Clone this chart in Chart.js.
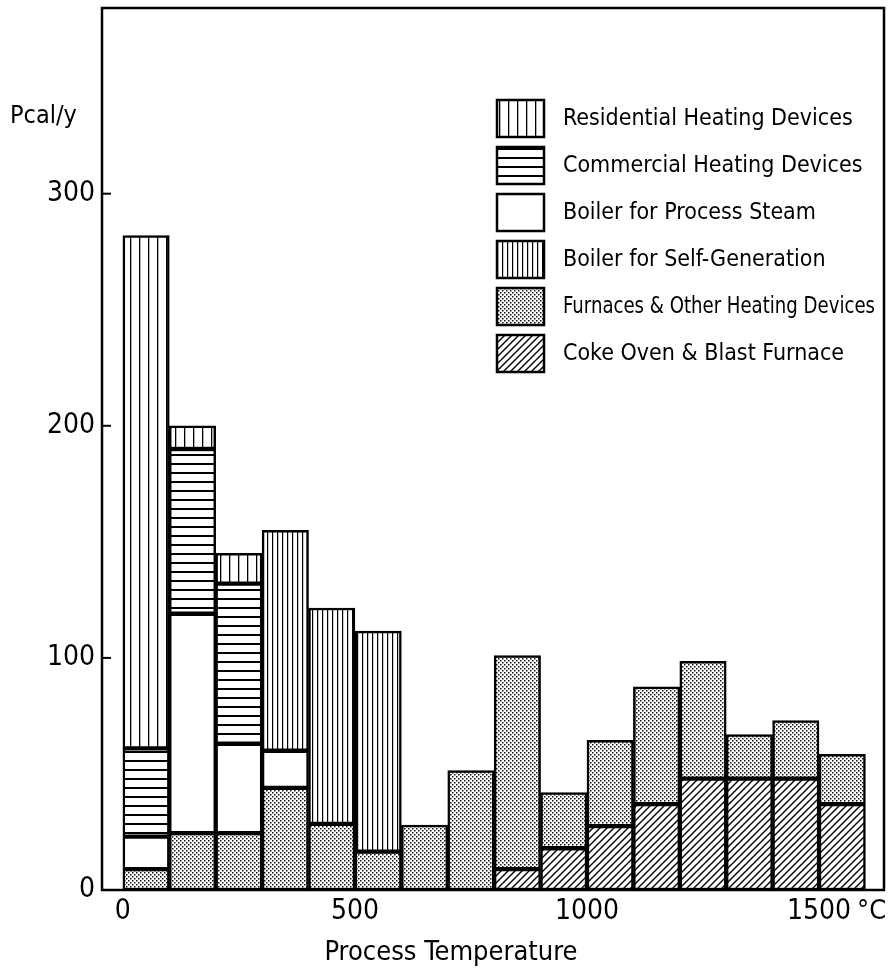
<!DOCTYPE html>
<html>
<head>
<meta charset="utf-8">
<title>Process heat demand by temperature</title>
<script src="https://cdn.jsdelivr.net/npm/chart.js@4.4.1/dist/chart.umd.min.js"></script>
<style>
  html, body { margin: 0; padding: 0; background: #fff; }
  canvas { display: block; }
</style>
</head>
<body>
<canvas id="heatChart" width="890" height="976"></canvas>
<script>
// lower edge of each 100 °C bin
const binStarts = [0, 100, 200, 300, 400, 500, 600, 700, 800, 900, 1000, 1100, 1200, 1300, 1400, 1500];
const binWidth = 100;

// Pcal/y per bin, bottom of the stack first
const cokeOven       = [0, 0, 0, 0, 0, 0, 0, 0, 9, 18, 27.5, 37, 48, 48, 48, 37];
const furnaces       = [9, 24.5, 24.5, 44, 28.5, 16.5, 28, 51.5, 92, 24, 37, 50.5, 50.5, 19, 25, 21.5];
const processSteam   = [14, 94.5, 38.5, 16, 0, 0, 0, 0, 0, 0, 0, 0, 0, 0, 0, 0];
const selfGeneration = [0, 0, 0, 95, 93, 95, 0, 0, 0, 0, 0, 0, 0, 0, 0, 0];
const commercial     = [38, 71, 69, 0, 0, 0, 0, 0, 0, 0, 0, 0, 0, 0, 0, 0];
const residential    = [221, 10, 13, 0, 0, 0, 0, 0, 0, 0, 0, 0, 0, 0, 0, 0];

const xTickValues = [0, 500, 1000, 1500];
const yTickValues = [0, 100, 200, 300];

// order of the entries in the key
const keyOrder = [
  'Residential Heating Devices',
  'Commercial Heating Devices',
  'Boiler for Process Steam',
  'Boiler for Self-Generation',
  'Furnaces & Other Heating Devices',
  'Coke Oven & Blast Furnace'
];

const FONT = '"Liberation Sans Narrow", "DejaVu Sans Condensed", "Liberation Sans", sans-serif';

const canvas = document.getElementById('heatChart');
const ctx = canvas.getContext('2d');

// small tiles used as hatch fills
function tile(w, h, draw) {
  const c = document.createElement('canvas');
  c.width = w;
  c.height = h;
  const g = c.getContext('2d');
  g.fillStyle = '#fff';
  g.fillRect(0, 0, w, h);
  g.fillStyle = '#000';
  g.strokeStyle = '#000';
  draw(g, w, h);
  return ctx.createPattern(c, 'repeat');
}

const fills = {
  vertWide: tile(9, 4, g => g.fillRect(4, 0, 1.3, 4)),
  vertDense: tile(5, 4, g => g.fillRect(2, 0, 1.2, 4)),
  horiz: tile(4, 9, g => g.fillRect(0, 4, 4, 2)),
  plain: '#fff',
  dots: tile(4, 4, g => {
    g.fillStyle = '#111';
    g.fillRect(0, 0, 1.5, 1.5);
    g.fillRect(2, 2, 1.5, 1.5);
  }),
  diag: tile(7, 7, g => {
    g.lineWidth = 1.4;
    g.beginPath();
    g.moveTo(-1, 8); g.lineTo(8, -1);
    g.moveTo(-1, 1); g.lineTo(1, -1);
    g.moveTo(6, 8); g.lineTo(8, 6);
    g.stroke();
  })
};

const series = [
  { label: 'Coke Oven & Blast Furnace', values: cokeOven, fill: fills.diag },
  { label: 'Furnaces & Other Heating Devices', values: furnaces, fill: fills.dots },
  { label: 'Boiler for Process Steam', values: processSteam, fill: fills.plain },
  { label: 'Boiler for Self-Generation', values: selfGeneration, fill: fills.vertDense },
  { label: 'Commercial Heating Devices', values: commercial, fill: fills.horiz },
  { label: 'Residential Heating Devices', values: residential, fill: fills.vertWide }
];

// frame, inward ticks, unit labels and the key
const decorations = {
  id: 'decorations',
  afterDraw(chart) {
    const c = chart.ctx;
    const area = chart.chartArea;
    const x = chart.scales.x;
    const y = chart.scales.y;
    c.save();
    c.strokeStyle = '#000';
    c.lineWidth = 2.5;
    c.strokeRect(area.left, area.top, area.right - area.left, area.bottom - area.top);

    c.lineWidth = 2;
    yTickValues.forEach(v => {
      const py = y.getPixelForValue(v);
      c.beginPath();
      c.moveTo(area.left, py);
      c.lineTo(area.left + 9, py);
      c.stroke();
    });

    c.fillStyle = '#000';
    c.textBaseline = 'middle';
    c.font = '25px ' + FONT;
    c.textAlign = 'left';
    c.fillText('Pcal/y', 10, 116);

    c.font = '28px ' + FONT;
    const px1500 = x.getPixelForValue(1500);
    const w1500 = c.measureText('1500').width;
    c.font = '27px ' + FONT;
    c.fillText('°C', px1500 + w1500 / 2 + 6, 912, 31);

    c.font = '27px ' + FONT;
    c.textAlign = 'center';
    c.fillText('Process Temperature', x.getPixelForValue(707), 953);

    c.font = '23px ' + FONT;
    c.textAlign = 'left';
    keyOrder.forEach((name, i) => {
      const ds = chart.data.datasets.find(d => d.label === name);
      const top = 100 + i * 47;
      c.fillStyle = ds.backgroundColor;
      c.fillRect(497, top, 47, 37);
      c.lineWidth = 2.5;
      c.strokeRect(497, top, 47, 37);
      c.fillStyle = '#000';
      c.fillText(ds.label, 563, top + 19, 312);
    });
    c.restore();
  }
};

new Chart(ctx, {
  type: 'bar',
  data: {
    datasets: series.map(s => ({
      label: s.label,
      data: binStarts.map((t, i) => ({ x: t + binWidth / 2, y: s.values[i] })),
      backgroundColor: s.fill,
      borderColor: '#000',
      borderWidth: 2.5,
      borderSkipped: false,
      grouped: false,
      categoryPercentage: 1,
      barPercentage: 1
    }))
  },
  options: {
    responsive: false,
    animation: false,
    layout: { padding: { top: 8, right: 6, left: 0, bottom: 0 } },
    plugins: {
      legend: { display: false },
      tooltip: { enabled: false }
    },
    scales: {
      x: {
        type: 'linear',
        stacked: true,
        offset: false,
        min: -45,
        max: 1640,
        grid: { display: false, drawTicks: false },
        border: { display: false },
        afterBuildTicks: s => { s.ticks = xTickValues.map(v => ({ value: v })); },
        afterFit: s => {
          s.height = 86;
          s.paddingLeft = 0;
          s.paddingRight = 0;
        },
        ticks: {
          color: '#000',
          padding: 5,
          maxRotation: 0,
          autoSkip: false,
          callback: v => String(v),
          font: { family: FONT, size: 28 }
        }
      },
      y: {
        stacked: true,
        min: 0,
        max: 380,
        grid: { display: false, drawTicks: false },
        border: { display: false },
        afterBuildTicks: s => { s.ticks = yTickValues.map(v => ({ value: v })); },
        afterFit: s => {
          s.width = 102;
          s.paddingTop = 0;
          s.paddingBottom = 0;
        },
        ticks: {
          color: '#000',
          padding: 7,
          callback: v => String(v),
          font: { family: FONT, size: 28 }
        }
      }
    }
  },
  plugins: [decorations]
});
</script>
</body>
</html>
